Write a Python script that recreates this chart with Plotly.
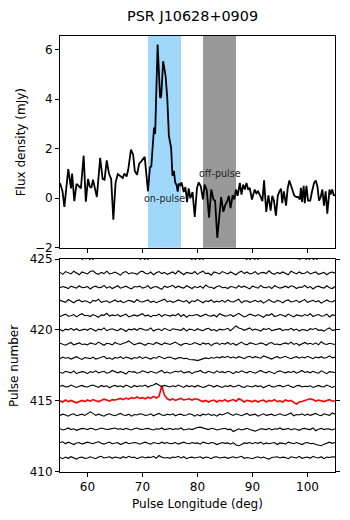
import numpy as np
import plotly.graph_objects as go

TITLE = "PSR J10628+0909"
X_LABEL = "Pulse Longitude (deg)"
Y_LABEL_TOP = "Flux density (mJy)"
Y_LABEL_BOTTOM = "Pulse number"

# ---- integrated profile (top panel) ----
prof_lon = [55.0, 55.45, 55.8, 56.5, 57.0, 57.2, 57.6, 58.0, 58.4, 58.8,
            59.3, 59.7, 60.1, 60.4, 60.7, 61.0, 61.35, 61.7, 62.3, 62.75,
            63.1, 63.5, 63.9, 64.3, 64.7, 65.1, 65.5, 66.0, 66.4, 66.7,
            67.1, 67.4, 67.9, 68.3, 68.6, 69.0, 69.4, 69.7, 70.1, 70.4,
            71.0, 71.35, 71.6, 72.1, 72.3, 72.75, 73.2, 73.4, 73.75, 74.2,
            74.5, 74.8, 75.2, 75.45, 75.7, 75.95, 76.2, 76.4, 76.6, 76.9,
            77.1, 77.5, 77.8, 78.1, 78.4, 78.7, 79.1, 79.5, 79.9, 80.2,
            80.6, 81.0, 81.3, 81.7, 82.1, 82.5, 82.9, 83.2, 83.6, 84.0,
            84.3, 84.7, 85.0, 85.4, 85.7, 86.0, 86.4, 86.7, 87.0, 87.3,
            87.7, 88.0, 88.3, 88.6, 88.9, 89.2, 89.5, 89.9, 90.4, 90.7,
            91.0, 91.3, 91.8, 92.1, 92.5, 92.9, 93.3, 93.6, 93.9, 94.25,
            94.6, 94.9, 95.2, 95.4, 95.7, 96.1, 96.4, 96.7, 97.0, 97.3,
            97.6, 98.0, 98.3, 98.6, 98.8, 99.0, 99.3, 99.5, 99.8, 100.1,
            100.5, 100.8, 101.2, 101.5, 101.8, 102.1, 102.4, 102.7, 103.0, 103.3,
            103.6, 104.0, 104.2, 104.5, 104.8, 105.0]
prof_flux = [0.62, 0.28, -0.35, 1.18, 0.40, 1.00, -0.12, 0.58, 0.50, 0.40,
             1.72, -0.14, 0.78, 0.48, 0.42, 0.75, 0.40, 0.05, 1.63, 0.78,
             0.75, 1.53, 1.00, 0.78, -0.87, 0.62, 0.98, 0.88, 0.82, 1.00,
             0.88, 1.15, 1.96, 1.76, 1.10, 0.95, 1.40, 1.47, 1.60, 1.67,
             0.28, 1.25, 1.28, 2.86, 2.60, 6.21, 4.06, 4.10, 5.54, 4.94,
             4.06, 2.52, 2.05, 0.91, 1.11, 0.64, 0.53, 0.27, 0.59, 0.53,
             0.64, 0.25, 0.45, -0.16, 0.40, 0.00, 0.25, -0.76, 0.40, 0.64,
             0.48, -0.05, 0.55, 0.30, -0.79, 0.35, -0.05, -0.10, -1.60, -0.45,
             0.05, -0.55, -0.30, -0.12, 0.10, -0.40, 0.12, -0.05, 0.35, 0.10,
             0.62, 0.15, 0.55, 0.35, 0.62, 0.35, 0.42, -0.05, 0.35, 0.20,
             0.28, 0.15, -0.12, 0.72, -0.55, 0.12, -0.50, 0.10, -0.10, -0.70,
             0.10, 0.28, 0.38, -0.20, 0.28, -0.30, 0.40, 0.72, 0.48, 0.25,
             0.10, 0.05, 0.05, -0.05, 0.42, -0.15, 0.50, -0.20, 0.50, -0.10,
             -0.10, 0.25, 0.62, 0.72, 0.48, -0.10, 0.05, 0.35, -0.30, 0.28,
             -0.62, 0.35, 0.15, 0.35, 0.10, 0.15]

ON_PULSE = [71.0, 77.0]
OFF_PULSE = [81.0, 87.0]
ON_LABEL_POS = [74.0, 0.0]
OFF_LABEL_POS = [84.0, 1.0]

# ---- single pulses (bottom panel) ----
# longitude grid start/step; values are deflections in units of 0.028 pulse spacing
LON_START = 55.0
LON_STEP = 0.5
DEFL_UNIT = 0.028
HIGHLIGHT = 415

p424 = [2,-3,4,1,-2,5,0,-4,3,1, -2,4,6,0,-3,2,-1,5,-2,0, 3,-1,-5,2,4,-2,1,0,-3,3,
        5,0,-2,3,-4,1,4,-1,2,-3, 0,3,-2,6,1,-4,2,0,-1,4, -3,2,5,-1,0,-5,3,1,-2,4,
        1,-2,3,0,-4,2,5,-1,3,-2, 0,4,-3,1,2,-1,6,0,-3,2, -1,3,0,-4,5,1,-2,3,-1,0,
        4,-2,1,3,-3,0,2,-4,1,3, 0]
p423 = [-1,2,0,-3,3,1,-2,4,-1,0, 2,-4,1,3,-1,0,5,-2,2,-3, 1,4,-2,0,3,-1,-4,2,1,3,
        -2,0,4,-3,1,2,-1,-5,3,0, 2,5,-1,3,0,-2,4,1,-3,2, -1,3,-2,6,1,0,-3,2,4,-1,
        0,-3,2,1,-2,4,0,3,-1,-4, 3,1,-2,5,0,-1,2,-3,4,1, -2,0,3,-1,4,2,-3,1,0,5,
        -1,2,-4,1,3,0,-2,4,-1,-3, 2]
p422 = [3,0,-2,5,1,-3,2,4,-1,2, 0,-4,3,1,6,-2,0,2,-3,1, 4,-1,2,-3,0,3,1,-2,5,0,
        -1,2,4,-2,1,-3,0,3,6,-1, 2,-2,0,4,1,-1,3,-4,2,0, 5,1,-3,2,0,4,-2,1,-1,3,
        -2,4,0,-1,3,6,-3,1,2,-2, 0,3,-1,2,-4,1,5,0,-2,3, 1,-3,2,4,-1,0,3,-2,1,5,
        -2,0,3,-1,2,-4,1,4,0,-1, 3]
p421 = [-2,1,4,-1,0,3,-3,2,5,0, 1,-2,3,0,-4,2,1,6,-1,2, 0,3,-2,1,4,-3,0,2,-1,3,
        5,-1,2,-3,1,0,4,-2,3,1, -1,2,0,5,-2,3,-4,1,0,2, 3,-2,1,4,0,-1,2,-3,5,1,
        -1,0,3,-2,2,6,1,-3,0,4, 2,-1,3,0,-4,2,1,5,-2,0, 3,1,-2,4,0,-3,2,1,-1,3,
        0,5,-2,1,3,-1,0,4,-3,2, 1]
p420 = [1,-3,2,0,4,-1,3,-2,0,2, -1,4,1,-3,2,0,5,-2,1,3, 0,-2,3,1,-4,2,0,3,-1,4,
        2,-1,0,5,-3,1,2,-2,4,0, -2,3,1,0,-1,4,-3,2,1,-2, 3,0,-2,2,4,-1,1,-3,2,0,
        1,4,-2,4,10,5,3,-1,2,5, -1,2,0,-3,3,1,4,-2,0,2, 3,-2,1,0,4,-1,2,-3,1,0,
        -2,3,1,4,-1,0,-3,2,5,-1, 0]
p419 = [2,0,-3,1,4,-2,1,3,-1,0, -2,3,1,-1,5,0,-3,2,1,-2, 4,1,-1,2,4,8,3,-2,1,3,
        0,-3,2,1,-1,4,0,-2,3,1, -1,2,5,0,-3,1,2,-1,0,4, 1,-2,3,0,2,-4,1,3,-1,2,
        0,4,-1,2,-3,1,5,0,-2,3, 2,-1,0,3,1,-3,2,4,-1,0, -2,1,3,0,5,-1,2,-3,1,4,
        0,2,-1,3,-2,6,1,-1,2,0, -1]
p418 = [-1,3,0,2,-2,1,4,0,-3,2, 1,-1,3,-2,0,2,5,-1,1,-3, 2,0,4,-1,3,1,-2,2,0,4,
        -1,3,1,-2,2,0,5,1,-1,2, 3,0,-2,1,2,-1,0,-3,-3,-4, -6,-3,-2,1,-1,2,0,3,1,4,
        2,5,1,3,0,4,2,-1,3,5, 1,4,2,0,6,3,1,-2,2,4, 0,3,5,1,-1,2,4,0,3,1,
        5,2,-1,3,1,4,0,2,6,1, 3]
p417 = [0,-2,3,1,-1,4,-3,0,2,1, -3,2,0,4,-1,1,3,-2,0,5, 1,-1,2,0,-4,3,1,2,-2,0,
        4,1,-1,3,0,-2,2,5,-1,1, -2,0,3,1,4,-1,0,2,-3,1, 2,5,0,-1,3,1,-2,4,0,2,
        -1,3,1,-3,2,0,4,1,-1,3, 0,-2,2,5,1,-1,3,0,-3,2, 4,1,-1,2,0,3,-2,1,5,0,
        2,-1,3,0,-2,4,1,-3,2,1, 0]
p416 = [1,3,-1,0,4,2,-2,1,3,0, -1,2,4,1,-2,3,0,2,-3,1, 3,0,2,-1,4,1,-2,3,0,2,
        1,4,-1,2,4,8,4,0,3,1, -1,2,0,4,1,-2,3,0,2,-1, 3,1,-2,0,4,2,-1,3,0,-2,
        2,0,3,-1,1,4,0,-2,2,1, -1,3,0,2,-3,1,4,0,-1,2, 3,-1,1,4,0,-2,2,3,-1,1,
        0,2,-2,1,3,0,-1,4,1,-2, 1]
p415 = [0,-3,2,-2,1,-3,-5,-2,1,-2, 2,-1,3,0,-2,1,4,2,-1,3, 2,4,6,3,7,4,8,6,10,6,
        8,5,9,6,11,7,11,38,14,5, 2,5,1,4,6,2,3,5,2,5, 4,2,-2,1,-3,0,2,-3,1,-1,
        3,-2,0,3,-1,5,2,-3,1,0, -2,1,-3,0,2,-3,1,-1,3,-2, 0,-3,2,-1,1,-4,-8,-3,-2,1,
        3,5,3,-1,2,0,-2,1,3,-1, 0]
p414 = [-1,2,0,-3,1,3,-2,0,2,-1, 4,8,4,-1,2,0,-3,1,3,0, -2,1,4,0,-1,2,-3,1,0,3,
        2,-1,0,3,-2,1,4,0,-1,2, 0,3,-2,1,2,-1,0,3,1,-3, 1,-2,2,0,3,-1,1,-3,2,0,
        4,6,2,-1,3,0,-2,1,4,-1, 0,2,-3,1,3,-1,0,2,-2,1, 3,0,-1,2,5,-2,1,0,3,-1,
        2,-1,1,4,0,-2,3,1,-1,5, 2]
p413 = [1,-2,0,3,-1,1,-3,0,2,1, -1,2,1,-2,0,3,1,-1,0,2, 3,0,1,-1,2,0,-2,1,3,0,
        -1,1,2,0,-2,1,0,3,-1,0, 2,-1,1,0,3,-2,0,1,-1,2, 4,5,3,0,-1,2,1,-2,0,1,
        2,-1,0,-6,-3,1,-2,0,2,-1, -3,-5,-2,1,0,-1,2,-2,1,0, 3,-1,0,2,-2,1,0,-3,1,2,
        0,-1,3,-4,0,2,-1,1,0,-2, 1]
p412 = [2,4,-1,3,0,-3,1,2,-2,0, 3,1,-1,2,4,0,-2,1,3,-1, 0,2,-3,1,3,-1,0,2,1,-2,
        1,3,0,-2,2,1,-1,3,0,2, -1,0,2,-2,1,3,0,-1,2,0, 1,-2,3,0,-1,2,1,-3,0,2,
        0,1,-2,2,-4,-6,-3,1,0,2, -1,2,0,3,-2,1,-1,0,2,-3, 1,0,-2,3,1,-1,2,0,-3,1,
        2,-1,0,-3,-4,-6,-2,1,3,0, 2]
p411 = [0,-3,1,-2,2,-1,-4,0,1,-2, -1,2,0,-3,1,3,-1,0,2,-2, 1,0,-2,2,-1,3,0,1,-3,0,
        2,-1,1,0,3,-2,5,1,-1,0, -2,1,0,3,-1,2,-3,0,1,-1, 0,2,-2,1,0,-3,1,2,-1,0,
        1,-2,0,2,-1,1,3,-2,0,-1, -3,0,2,-1,1,-2,-4,0,1,2, -1,1,0,-3,2,0,-1,3,-2,0,
        1,-2,3,0,-1,2,-3,1,0,2, 1]

pulse_numbers = [411, 412, 413, 414, 415, 416, 417, 418, 419, 420, 421, 422, 423, 424]
pulse_rows = [p411, p412, p413, p414, p415, p416, p417, p418, p419, p420, p421, p422, p423, p424]

TOP_X_TICKS = [60, 70, 80, 90, 100]
TOP_Y_TICKS = [-2, 0, 2, 4, 6]
BOT_Y_TICKS = [410, 415, 420, 425]

# ---- layout geometry (pixels) ----
W, H = 350, 520
ML, MR = 60, 15
TOP_PX = (35.7, 247.7)
BOT_PX = (259.0, 471.7)


def ydom(px_pair):
    return [1 - px_pair[1] / H, 1 - px_pair[0] / H]


def px_x(px):
    return (px - ML) / (W - ML - MR)


FONT = "DejaVu Sans"

fig = go.Figure()

fig.add_trace(go.Scatter(x=prof_lon, y=prof_flux, mode="lines",
                         line=dict(color="black", width=1.8),
                         xaxis="x", yaxis="y", showlegend=False, hoverinfo="skip"))

for n, row in zip(pulse_numbers, pulse_rows):
    lon = LON_START + LON_STEP * np.arange(len(row))
    yy = n + np.array(row, dtype=float) * DEFL_UNIT
    hl = (n == HIGHLIGHT)
    fig.add_trace(go.Scatter(x=lon, y=yy, mode="lines",
                             line=dict(color="red" if hl else "black", width=1.6 if hl else 1.1),
                             xaxis="x2", yaxis="y2", showlegend=False, hoverinfo="skip"))

axis_common = dict(showgrid=False, zeroline=False, showline=True, linecolor="black",
                   linewidth=1, ticks="outside", ticklen=4, tickwidth=1, tickcolor="black",
                   tickfont=dict(family=FONT, size=12, color="black"), automargin=False)

fig.update_layout(
    width=W, height=H, autosize=False,
    margin=dict(l=ML, r=MR, t=0, b=0, pad=0),
    paper_bgcolor="white", plot_bgcolor="white",
    font=dict(family=FONT, size=12, color="black"),
    xaxis=dict(range=[55, 105], tickvals=TOP_X_TICKS, anchor="y", domain=[0, 1],
               mirror=True, **axis_common),
    yaxis=dict(range=[-2, 6.57], tickvals=TOP_Y_TICKS, anchor="x", domain=ydom(TOP_PX),
               mirror=True, **axis_common),
    xaxis2=dict(range=[55, 105], tickvals=TOP_X_TICKS, anchor="y2", domain=[0, 1],
                mirror=True, **axis_common),
    yaxis2=dict(range=[410, 425], tickvals=BOT_Y_TICKS, anchor="x2", domain=ydom(BOT_PX),
                mirror="ticks", **axis_common),
)

# on/off pulse windows
fig.add_shape(type="rect", xref="x", yref="y domain", x0=ON_PULSE[0], x1=ON_PULSE[1], y0=0, y1=1,
              fillcolor="rgba(135,206,250,0.8)", line=dict(width=0), layer="below")
fig.add_shape(type="rect", xref="x", yref="y domain", x0=OFF_PULSE[0], x1=OFF_PULSE[1], y0=0, y1=1,
              fillcolor="rgba(128,128,128,0.8)", line=dict(width=0), layer="below")

# cover the lower part of the top panel's tick labels (hidden behind lower panel)
fig.add_shape(type="rect", xref="paper", yref="paper", x0=0.004, x1=0.996,
              y0=1 - 268 / H, y1=1 - 260 / H, fillcolor="white", line=dict(width=0), layer="above")

fig.add_annotation(x=ON_LABEL_POS[0], y=ON_LABEL_POS[1], xref="x", yref="y", text="on-pulse",
                   showarrow=False, xanchor="center", yanchor="middle",
                   font=dict(family=FONT, size=9.6, color="#262626"))
fig.add_annotation(x=OFF_LABEL_POS[0], y=OFF_LABEL_POS[1], xref="x", yref="y", text="off-pulse",
                   showarrow=False, xanchor="center", yanchor="middle",
                   font=dict(family=FONT, size=9.6, color="#262626"))

fig.add_annotation(x=px_x(192.7), y=1 - 15.5 / H, xref="paper", yref="paper", text=TITLE,
                   showarrow=False, xanchor="center", yanchor="middle",
                   font=dict(family=FONT, size=14.4, color="black"))
fig.add_annotation(x=px_x(21.3), y=1 - 142 / H, xref="paper", yref="paper", text=Y_LABEL_TOP,
                   showarrow=False, xanchor="center", yanchor="middle", textangle=-90,
                   font=dict(family=FONT, size=12, color="black"))
fig.add_annotation(x=px_x(14.1), y=1 - 366 / H, xref="paper", yref="paper", text=Y_LABEL_BOTTOM,
                   showarrow=False, xanchor="center", yanchor="middle", textangle=-90,
                   font=dict(family=FONT, size=12, color="black"))
fig.add_annotation(x=px_x(197.5), y=1 - 503.5 / H, xref="paper", yref="paper", text=X_LABEL,
                   showarrow=False, xanchor="center", yanchor="middle",
                   font=dict(family=FONT, size=12, color="black"))

fig.write_html("out.html")
